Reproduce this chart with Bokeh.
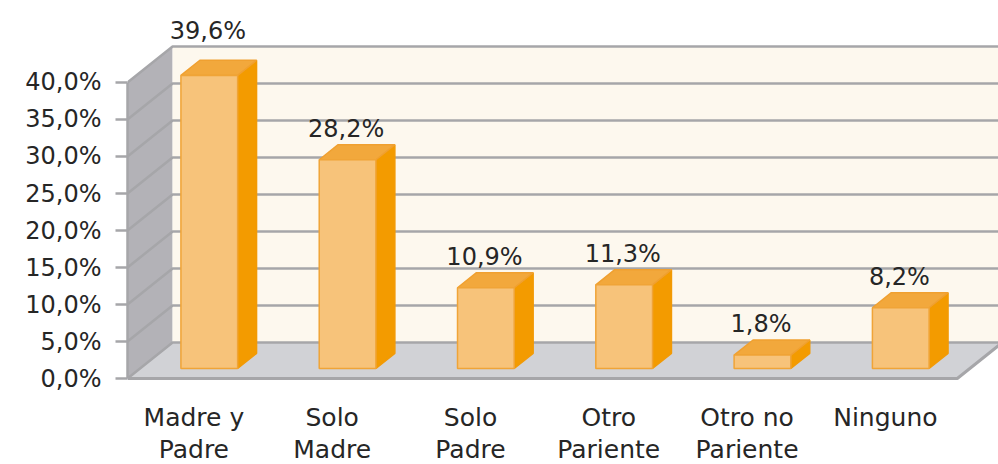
from bokeh.plotting import figure
from bokeh.models import Range1d, FixedTicker, ColumnDataSource
from bokeh.core.properties import value
from bokeh.embed import file_html
from bokeh.resources import INLINE

# ---- data ----
categories = ["Madre y\nPadre", "Solo\nMadre", "Solo\nPadre", "Otro\nPariente", "Otro no\nPariente", "Ninguno"]
values = [39.6, 28.2, 10.9, 11.3, 1.8, 8.2]
value_labels = ["39,6%", "28,2%", "10,9%", "11,3%", "1,8%", "8,2%"]
y_ticks = [0, 5, 10, 15, 20, 25, 30, 35, 40]
y_tick_labels = ["0,0%", "5,0%", "10,0%", "15,0%", "20,0%", "25,0%", "30,0%", "35,0%", "40,0%"]

# ---- 3D geometry (styles) ----
DX = 0.326      # depth offset in category units
DY = 4.86       # depth offset in % units
F1 = 0.28       # bar front depth fraction
FD = 0.42       # bar depth fraction
BW = 0.41       # bar width
label_nudge = [13, 0, 0, 0, 0, 0]   # px

FONT = value("DejaVu Sans")
TXT = "#262626"
GRID = "#A6A6A9"

n = len(values)
ymax = y_ticks[-1]

p = figure(width=998, height=464, output_backend="svg", toolbar_location=None,
           x_range=Range1d(0, 6.298), y_range=Range1d(-11.62, 51.08),
           min_border_left=127, min_border_right=0, min_border_top=0, min_border_bottom=0,
           background_fill_color="white", border_fill_color="white", outline_line_color=None)
p.grid.visible = False
p.xaxis.visible = False

# walls & floor
p.patch([0, DX, DX, 0], [0, DY, ymax + DY, ymax], fill_color="#B3B2B7", line_color=None)
p.patch([DX, n + DX, n + DX, DX], [DY, DY, ymax + DY, ymax + DY], fill_color="#FDF8EE", line_color=None)
p.patch([0, n, n + DX, DX], [0, 0, DY, DY], fill_color="#D1D2D6", line_color=None)

# gridlines
for t in y_ticks:
    p.line([0, DX, n + DX], [t, t + DY, t + DY], line_color=GRID, line_width=2.5)
p.line([0, n, n + DX], [0, 0, DY], line_color=GRID, line_width=3)

# bars
fx, fy, tx, ty, sx, sy = [], [], [], [], [], []
for i, v in enumerate(values):
    x0 = i + 0.5 - BW / 2 + F1 * DX
    x1 = x0 + BW
    y0 = F1 * DY
    y1 = v + F1 * DY
    ddx, ddy = FD * DX, FD * DY
    fx.append([x0, x1, x1, x0]); fy.append([y0, y0, y1, y1])
    tx.append([x0, x1, x1 + ddx, x0 + ddx]); ty.append([y1, y1, y1 + ddy, y1 + ddy])
    sx.append([x1, x1 + ddx, x1 + ddx, x1]); sy.append([y0, y0 + ddy, y1 + ddy, y1])
p.patches(sx, sy, fill_color="#F39B00", line_color="#F29A05", line_width=1.5)
p.patches(tx, ty, fill_color="#F2A83C", line_color="#F0A030", line_width=1.5)
p.patches(fx, fy, fill_color="#F7C37A", line_color="#F0A437", line_width=1.5)

# value labels
src = ColumnDataSource(dict(
    x=[i + 0.5 + F1 * DX - 0.01 for i in range(n)],
    y=[v + (F1 + FD) * DY for v in values],
    t=value_labels,
    off=[-16 - k for k in label_nudge],
))
p.text("x", "y", text="t", source=src, y_offset="off", text_align="center",
       text_baseline="alphabetic", text_font=FONT, text_font_size="24px", text_color=TXT)

# category labels (below the floor front edge)
csrc = ColumnDataSource(dict(x=[i + 0.5 - 0.02 for i in range(n)], y=[0] * n, t=categories))
p.text("x", "y", text="t", source=csrc, y_offset=24, text_align="center",
       text_baseline="top", text_font=FONT, text_font_size="25px", text_color=TXT,
       text_line_height=1.13)

# y axis
ya = p.yaxis[0]
ya.ticker = FixedTicker(ticks=y_ticks)
ya.major_label_overrides = {t: l for t, l in zip(y_ticks, y_tick_labels)}
ya.bounds = (0, ymax)
ya.axis_line_color = GRID
ya.axis_line_width = 2.5
ya.major_tick_line_color = GRID
ya.major_tick_line_width = 2.5
ya.major_tick_out = 12
ya.major_tick_in = 0
ya.minor_tick_line_color = None
ya.major_label_standoff = 14
ya.major_label_text_font = "DejaVu Sans"
ya.major_label_text_font_size = "24px"
ya.major_label_text_color = TXT

open("out.html", "w").write(file_html(p, INLINE))
